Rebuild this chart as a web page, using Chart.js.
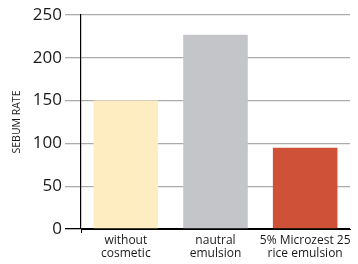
<!DOCTYPE html>
<html>
<head>
<meta charset="utf-8">
<script src="https://cdn.jsdelivr.net/npm/chart.js@4/dist/chart.umd.min.js"></script>
<style>
html,body{margin:0;padding:0;background:#fff;}
#wrap{width:358px;height:264px;position:relative;}
</style>
</head>
<body>
<div id="wrap"><canvas id="c" width="358" height="264"></canvas></div>
<script>
const categories = [["without", "cosmetic"], ["nautral", "emulsion"], ["5% Microzest 25", "rice emulsion"]];
const sebumRate = [150, 227, 95];
const barColors = ["#fdedc1", "#c4c5c8", "#cf5238"];
const yTicks = [0, 50, 100, 150, 200, 250];
const yTitle = "SEBUM RATE";

new Chart(document.getElementById('c'), {
  type: 'bar',
  data: {
    labels: categories,
    datasets: [{
      data: sebumRate,
      backgroundColor: barColors,
      borderWidth: 0,
      barPercentage: 0.8,
      categoryPercentage: 0.9
    }]
  },
  options: {
    responsive: false,
    animation: false,
    devicePixelRatio: 1,
    layout: { padding: { top: 15, right: 8, left: 0, bottom: 0 } },
    plugins: { legend: { display: false }, tooltip: { enabled: false } },
    scales: {
      x: {
        offset: true,
        grid: {
          display: true,
          drawOnChartArea: false,
          drawTicks: true,
          tickLength: 4,
          color: (ctx) => ctx.index === 0 ? '#000' : 'rgba(0,0,0,0)'
        },
        border: { display: true, color: '#000', width: 1 },
        ticks: {
          color: '#1a1a1a',
          font: { family: 'Open Sans', size: 12, lineHeight: 1.1 },
          padding: 1,
          maxRotation: 0,
          autoSkip: false
        },
        afterFit: (s) => { s.height = 35; }
      },
      y: {
        min: 0,
        max: 250,
        afterBuildTicks: (s) => { s.ticks = yTicks.map(v => ({ value: v })); },
        grid: {
          color: (ctx) => ctx.tick && ctx.tick.value === 0 ? '#000' : '#ababab',
          lineWidth: 1.3,
          tickLength: 16,
          drawTicks: true
        },
        border: { display: true, color: '#000', width: 1.2 },
        ticks: {
          color: '#1a1a1a',
          font: { family: 'Open Sans', size: 17 },
          padding: 3
        },
        title: {
          display: true,
          text: yTitle,
          color: '#1a1a1a',
          font: { family: 'Open Sans', size: 10.5 },
          padding: { top: 10.5, bottom: 0 }
        },
        afterFit: (s) => { s.width = 81; }
      }
    }
  }
});
</script>
</body>
</html>
